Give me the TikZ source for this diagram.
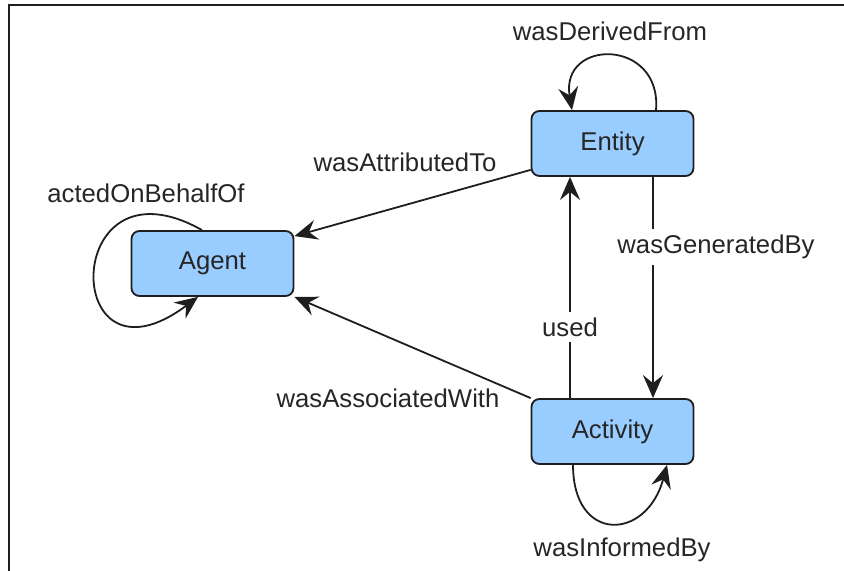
\documentclass[tikz,border=0pt]{standalone}
\usepackage{fontspec}
\setmainfont{Liberation Sans}
\usetikzlibrary{arrows.meta, positioning}
\definecolor{pbox}{HTML}{99CCFF}
\definecolor{pdark}{HTML}{1E1E1E}
\definecolor{ptext}{HTML}{262626}
\tikzset{
  provbox/.style = {draw=pdark, fill=pbox, line width=0.9pt, rounded corners=4pt,
                    minimum width=81pt, minimum height=32.5pt, inner sep=0pt,
                    font=\fontsize{12.85}{15}\selectfont, text=ptext},
  provarr/.style = {-{Stealth[length=11.5pt, width=10pt, inset=4pt]},
                    line width=0.9pt, draw=pdark},
  provlab/.style = {font=\fontsize{12.85}{15}\selectfont, text=ptext, inner sep=2.8pt},
  gaplab/.style  = {provlab, fill=white},
}

\begin{document}
\begin{tikzpicture}[x=0.5pt, y=0.5pt]
  \useasboundingbox (0,0) rectangle (844,571);
  % frame
  \draw[pdark, line width=1.3pt] (9,0) -- (9,566) -- (844,566);
  % classes
  \node[provbox] (agent)    at (212.5,307.5) {Agent};
  \node[provbox] (entity)   at (612.5,427.5) {Entity};
  \node[provbox] (activity) at (612.5,139.5) {Activity};
  % relations
  \draw[provarr] ([yshift=3.5pt]entity.south west) -- ([yshift=-3pt]agent.north east);
  \draw[provarr] (activity.north west) -- (agent.south east);
  \draw[provarr] ([xshift=-21.25pt]activity.north) -- ([xshift=-21.25pt]entity.south);
  \draw[provarr] ([xshift=20.25pt]entity.south) -- ([xshift=20.25pt]activity.north);
  % self loops
  \draw[provarr] ([xshift=21.75pt]entity.north)
    .. controls +(6,72) and +(-12,72) .. ([xshift=-20.25pt]entity.north);
  \draw[provarr] ([xshift=-5.25pt]agent.north)
    .. controls +(-142,80) and +(-138,-103) .. ([xshift=-7.25pt]agent.south);
  \draw[provarr] ([xshift=-19.75pt]activity.south)
    to[out=-90, in=-105, looseness=2.15] ([xshift=27.25pt]activity.south);
  % labels
  \node[provlab] (lderived)    at (610,540) {wasDerivedFrom};
  \node[provlab] (lattributed) at (405,409) {wasAttributedTo};
  \node[provlab] (lacted)      at (146,378) {actedOnBehalfOf};
  \node[gaplab]  (lgenerated)  at (716,324) {wasGeneratedBy};
  \node[gaplab]  (lused)       at (570,244) {used};
  \node[provlab] (lassociated) at (388,173) {wasAssociatedWith};
  \node[provlab] (linformed)   at (622,21)  {wasInformedBy};
\end{tikzpicture}
\end{document}
